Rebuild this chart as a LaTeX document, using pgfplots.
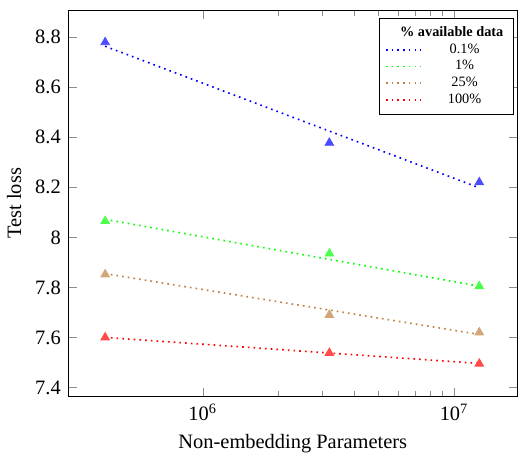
\documentclass[border=0pt]{standalone}
\usepackage{pgfplots}
\pgfplotsset{compat=1.18}
\usepackage{fontspec}
\setmainfont{Liberation Serif}
\begin{document}
\begin{tikzpicture}
\begin{axis}[
  scale only axis,
  width=220pt,
  height=189pt,
  xmode=log,
  xmin=2.91e5, xmax=1.79e7,
  ymin=7.364, ymax=8.908,
  xtick={1e6,1e7},
  xticklabels={10\textsuperscript{6},10\textsuperscript{7}},
  ytick={7.4,7.6,7.8,8,8.2,8.4,8.6,8.8},
  /pgf/number format/assume math mode=true,
  tick style={black!45},
  xlabel={Non-embedding Parameters},
  ylabel={Test loss},
  legend cell align=center,
  legend style={at={(0.992,0.98)}, anchor=north east, font=\scriptsize,
    draw=black, row sep=-2pt, inner xsep=3pt},
]
\addlegendimage{empty legend}
\addlegendentry{\makebox[38pt][r]{\textbf{\% available data}}}
% fitted trends
\addplot[blue, dotted, thick, no marks] coordinates {(4.09e5,8.764) (1.26e7,8.198)};
\addlegendentry{0.1\%}
\addplot[green, dotted, thick, no marks] coordinates {(4.09e5,8.072) (1.26e7,7.805)};
\addlegendentry{1\%}
\addplot[brown, dotted, thick, no marks] coordinates {(4.09e5,7.855) (1.26e7,7.612)};
\addlegendentry{25\%}
\addplot[red, dotted, thick, no marks] coordinates {(4.09e5,7.600) (1.26e7,7.496)};
\addlegendentry{100\%}
% measured points
\addplot[only marks, mark=triangle*, mark size=2.4pt, mark options={draw=blue!70, fill=blue!70}, forget plot]
  coordinates {(4.09e5,8.78) (3.19e6,8.378) (1.26e7,8.22)};
\addplot[only marks, mark=triangle*, mark size=2.4pt, mark options={draw=green!70, fill=green!70}, forget plot]
  coordinates {(4.09e5,8.065) (3.19e6,7.935) (1.26e7,7.805)};
\addplot[only marks, mark=triangle*, mark size=2.4pt, mark options={draw=brown!70, fill=brown!70}, forget plot]
  coordinates {(4.09e5,7.852) (3.19e6,7.69) (1.26e7,7.62)};
\addplot[only marks, mark=triangle*, mark size=2.4pt, mark options={draw=red!70, fill=red!70}, forget plot]
  coordinates {(4.09e5,7.60) (3.19e6,7.538) (1.26e7,7.495)};
\end{axis}
\path (current axis.north) ++(0,5pt);
\end{tikzpicture}
\end{document}
